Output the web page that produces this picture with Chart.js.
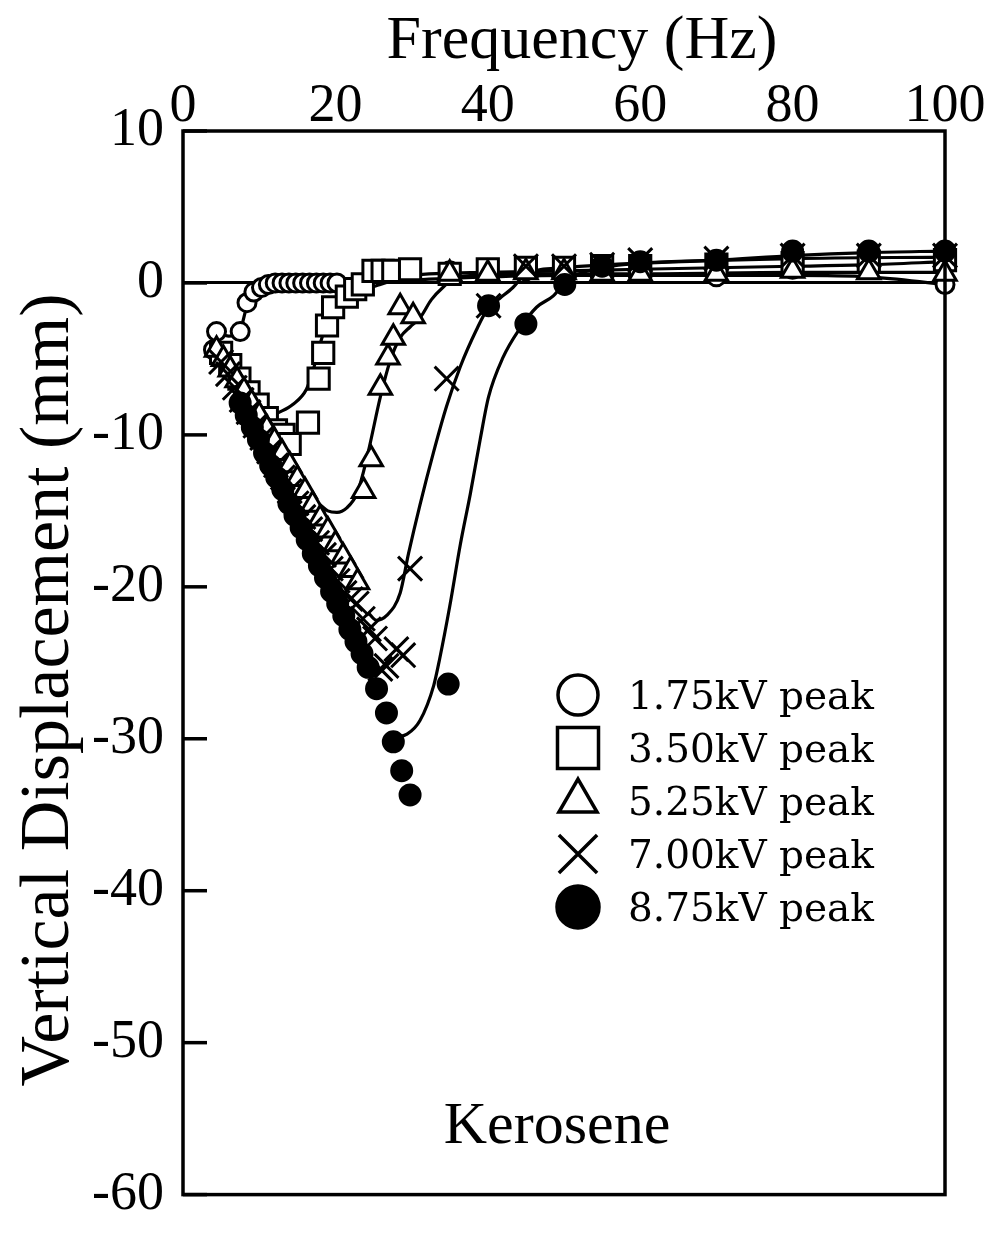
<!DOCTYPE html>
<html><head><meta charset="utf-8">
<script src="https://cdn.jsdelivr.net/npm/chart.js@4/dist/chart.umd.min.js"></script>
<style>html,body{margin:0;padding:0;background:#fff}canvas{display:block}</style>
</head><body>
<canvas id="c" width="1002" height="1246"></canvas>
<script>
// ---- data ----
const seriesLabels = ['1.75kV peak', '3.50kV peak', '5.25kV peak', '7.00kV peak', '8.75kV peak'];
const xTickValues = [0, 20, 40, 60, 80, 100];
const yTickValues = [10, 0, -10, -20, -30, -40, -50, -60];
const xTitle = 'Frequency (Hz)';
const yTitle = 'Vertical Displacement (mm)';
const noteText = 'Kerosene';

// measured markers
const m175x = [4.0, 4.4, 5.1, 7.5, 8.4, 9.3, 10.3, 11.2, 12.1, 13.0, 13.9, 14.8, 15.7, 16.6, 17.5, 18.4, 19.3, 20.2, 35, 40, 45, 50, 55, 60, 70, 80, 90, 100];
const m175y = [-4.4, -3.2, -4.9, -3.2, -1.3, -0.6, -0.3, -0.1, 0, 0, 0, 0, 0, 0, 0, 0, 0, 0, 0.8, 0.8, 0.8, 0.9, 0.9, 1.0, 0.4, 0.9, 0.9, -0.1];

const m350x = [5.0, 6.2, 7.4, 8.6, 9.8, 11.0, 12.2, 13.2, 14.0, 16.4, 17.8, 18.4, 18.9, 19.7, 21.5, 22.6, 23.6, 25.0, 26.2, 27.6, 29.8, 35, 40, 45, 50, 55, 60, 70, 80, 90, 100];
const m350y = [-4.6, -5.4, -6.3, -7.2, -8.0, -8.9, -9.7, -10.0, -10.6, -9.2, -6.3, -4.6, -2.8, -1.6, -0.9, -0.4, -0.1, 0.8, 0.8, 0.8, 0.9, 0.6, 0.9, 1.0, 1.0, 1.1, 1.1, 1.2, 1.3, 1.4, 1.5];

const m525x = [4.4, 5.3, 6.2, 7.1, 8.0, 9.0, 10.0, 11.0, 12.0, 13.0, 14.0, 15.0, 16.0, 17.0, 18.0, 19.0, 20.0, 21.0, 22.0, 22.9, 23.7, 24.7, 25.9, 26.9, 27.6, 28.5, 30.2, 35, 40, 45, 50, 55, 60, 70, 80, 90, 100];
const m525y = [-4.4, -5.0, -5.7, -6.4, -7.1, -7.9, -8.7, -9.6, -10.4, -11.2, -12.0, -12.9, -13.7, -14.6, -15.5, -16.3, -17.2, -18.0, -18.9, -19.7, -13.7, -11.6, -6.9, -4.9, -3.6, -1.6, -2.2, 0.6, 0.6, 0.7, 0.7, 0.6, 0.6, 0.6, 0.8, 0.7, 0.6];

const m700x = [5.0, 5.9, 6.8, 7.7, 8.6, 9.5, 10.4, 11.3, 12.2, 13.1, 14.0, 14.9, 15.8, 16.7, 17.6, 18.5, 19.4, 20.3, 21.2, 22.0, 22.8, 23.6, 24.4, 25.2, 25.9, 26.7, 28.0, 28.9, 29.8, 34.6, 40.1, 45, 50, 55, 60, 70, 80, 90, 100];
const m700y = [-5.2, -6.0, -6.9, -7.7, -8.5, -9.4, -10.2, -11.1, -12.0, -12.8, -13.7, -14.5, -15.4, -16.2, -17.1, -17.9, -18.8, -19.6, -20.4, -20.8, -21.1, -22.1, -22.8, -23.4, -25.4, -25.2, -24.1, -24.5, -18.8, -6.3, -1.5, 1.1, 1.1, 1.2, 1.5, 1.6, 1.8, 1.8, 1.8];

const m875x = [7.5, 8.3, 9.1, 9.9, 10.7, 11.5, 12.3, 13.1, 13.9, 14.7, 15.5, 16.3, 17.1, 17.9, 18.7, 19.5, 20.3, 21.1, 21.9, 22.7, 23.5, 24.3, 25.4, 26.7, 27.6, 28.7, 29.8, 34.8, 40.1, 45.0, 50.1, 55, 60, 70, 80, 90, 100];
const m875y = [-7.9, -8.7, -9.5, -10.3, -11.2, -12.0, -12.8, -13.6, -14.5, -15.3, -16.1, -16.9, -17.8, -18.6, -19.4, -20.3, -21.1, -21.9, -22.8, -23.6, -24.4, -25.3, -26.7, -28.3, -30.2, -32.1, -33.7, -26.4, -1.5, -2.7, -0.1, 1.1, 1.4, 1.5, 2.1, 2.1, 2.1];

// fitted curves
const c175x = [4.4, 6.0, 7.5, 8.4, 9.4, 10.5, 12, 20, 30, 40, 50, 60, 70, 80, 90, 100];
const c175y = [-3.2, -3.5, -3.1, -1.5, -0.6, -0.15, 0, 0, 0.2, 0.4, 0.5, 0.5, 0.5, 0.5, 0.4, -0.1];
const c350x = [12.3, 14.4, 16.2, 17.1, 18.0, 18.9, 20.2, 22.3, 24.1, 25.9, 30, 40, 50, 60, 70, 80, 90, 100];
const c350y = [-8.6, -8.0, -7.0, -5.7, -4.0, -2.7, -1.6, -0.8, -0.4, -0.1, 0.5, 0.7, 0.8, 0.9, 1.0, 1.1, 1.2, 1.4];
const c525x = [18.0, 19.0, 20.2, 21.5, 22.8, 23.7, 24.5, 25.9, 27.2, 28.5, 29.8, 31.1, 32.6, 34.1, 36, 45, 60, 80, 100];
const c525y = [-14.6, -15.0, -15.1, -14.8, -13.9, -12.4, -10.7, -7.5, -5.1, -3.6, -2.9, -2.3, -1.1, -0.3, 0.4, 0.6, 0.6, 0.7, 0.7];
const c700x = [24.3, 25.4, 26.7, 28.5, 29.6, 31.1, 32.9, 34.6, 36.4, 38.5, 40.1, 41.6, 43.3, 45, 50, 60, 80, 100];
const c700y = [-21.7, -22.2, -21.9, -20.4, -17.8, -14.6, -11.1, -8.1, -5.5, -3.1, -1.6, -1.0, -0.3, 0.6, 1.0, 1.3, 1.6, 1.7];
const c875x = [27.8, 29.4, 31.1, 32.9, 33.7, 35.0, 36.4, 37.7, 39.0, 40.1, 42.0, 44.2, 46.4, 48.6, 49.9, 52, 55, 60, 70, 80, 90, 100];
const c875y = [-29.9, -29.7, -28.8, -26.5, -24.7, -21.3, -17.2, -13.9, -10.3, -7.5, -4.9, -3.0, -1.6, -0.85, -0.1, 0.6, 1.0, 1.3, 1.5, 1.8, 2.0, 2.1];

// ---- build ----
const pts = (xs, ys) => xs.map((x, i) => ({x, y: ys[i]}));
const markerSets = [
  {x: m175x, y: m175y, style: 'circle', r: 9, fill: '#fff', legendR: 20},
  {x: m350x, y: m350y, style: 'rect', r: 15, fill: '#fff', legendR: 29},
  {x: m525x, y: m525y, style: 'triangle', r: 13, fill: '#fff', legendR: 22},
  {x: m700x, y: m700y, style: 'crossRot', r: 17, fill: '#fff', legendR: 27},
  {x: m875x, y: m875y, style: 'circle', r: 10, fill: '#000', legendR: 21}
];
const curveSets = [[c175x, c175y], [c350x, c350y], [c525x, c525y], [c700x, c700y], [c875x, c875y]];

const datasets = [];
curveSets.forEach((c, i) => {
  datasets.push({
    label: seriesLabels[i] + ' fit', data: pts(c[0], c[1]), showLine: true,
    borderColor: '#000', borderWidth: 3.2, pointRadius: 0, cubicInterpolationMode: 'monotone',
    order: 20, isCurve: true
  });
});
markerSets.forEach((m, i) => {
  datasets.push({
    label: seriesLabels[i], data: pts(m.x, m.y), showLine: false,
    pointStyle: m.style, pointRadius: m.r, pointBackgroundColor: m.fill,
    pointBorderColor: '#000', pointBorderWidth: 3, clip: false,
    order: 10 - i, legendR: m.legendR, legendFill: m.fill
  });
});

const serif = '"Liberation Serif", "Times New Roman", serif';

const framePlugin = {
  id: 'frame',
  beforeDraw(chart) {
    const ctx = chart.ctx;
    ctx.save(); ctx.fillStyle = '#fff'; ctx.fillRect(0, 0, chart.width, chart.height); ctx.restore();
  },
  afterDraw(chart) {
    const {ctx, chartArea: a} = chart;
    const ys = chart.scales.y;
    ctx.save();
    ctx.strokeStyle = '#000';
    ctx.lineWidth = 3.5;
    ctx.strokeRect(a.left, a.top, a.right - a.left, a.bottom - a.top);
    // inward tick marks on the left axis
    ys.ticks.forEach(t => {
      const py = ys.getPixelForValue(t.value);
      ctx.beginPath(); ctx.moveTo(a.left, py); ctx.lineTo(a.left + 24, py); ctx.stroke();
    });
    ctx.fillStyle = '#000';
    ctx.textAlign = 'center'; ctx.textBaseline = 'middle';
    // axis titles
    ctx.font = '62px ' + serif;
    ctx.fillText(xTitle, 582, 42);
    ctx.save();
    ctx.translate(50, 690);
    ctx.rotate(-Math.PI / 2);
    ctx.font = '70px ' + serif;
    ctx.fillText(yTitle, 0, 0);
    ctx.restore();
    // note text
    ctx.font = '60px ' + serif;
    ctx.textBaseline = 'alphabetic';
    ctx.fillText(noteText, 557, 1143);
    // legend
    const markerDs = chart.data.datasets.filter(d => !d.isCurve);
    markerDs.forEach((d, i) => {
      const cx = 578, cy = 695 + i * 53;
      ctx.lineWidth = 3.5;
      ctx.strokeStyle = '#000';
      ctx.fillStyle = d.legendFill;
      Chart.helpers.drawPoint(ctx, {pointStyle: d.pointStyle, radius: d.legendR, rotation: 0, borderWidth: 3.5}, cx, cy);
      ctx.fillStyle = '#000';
      ctx.font = '39px "DejaVu Serif", serif';
      ctx.textAlign = 'left';
      ctx.fillText(d.label, 628, cy + 14);
    });
    ctx.restore();
  }
};

new Chart(document.getElementById('c'), {
  type: 'scatter',
  data: {datasets},
  options: {
    responsive: false,
    devicePixelRatio: 1,
    animation: false,
    layout: {padding: {left: 0, top: 0, right: 57, bottom: 34}},
    plugins: {legend: {display: false}, tooltip: {enabled: false}},
    scales: {
      x: {
        type: 'linear', position: 'top', min: 0, max: 100,
        afterBuildTicks: s => { s.ticks = xTickValues.map(v => ({value: v})); },
        afterFit: s => { s.height = 131; },
        grid: {display: false, drawTicks: false},
        border: {display: false},
        ticks: {color: '#000', font: {family: serif, size: 54}, padding: -8, maxRotation: 0},
        title: {display: false, text: xTitle}
      },
      y: {
        type: 'linear', position: 'left', min: -60, max: 10,
        afterBuildTicks: s => { s.ticks = yTickValues.map(v => ({value: v})); },
        afterFit: s => { s.width = 183; },
        grid: {
          drawTicks: false,
          color: c => (c.tick && c.tick.value === 0) ? '#000' : 'rgba(0,0,0,0)',
          lineWidth: c => (c.tick && c.tick.value === 0) ? 3 : 0
        },
        border: {display: false},
        ticks: {color: '#000', font: {family: serif, size: 54}, padding: 19},
        title: {display: false, text: yTitle}
      }
    }
  },
  plugins: [framePlugin]
});
</script>
</body></html>
